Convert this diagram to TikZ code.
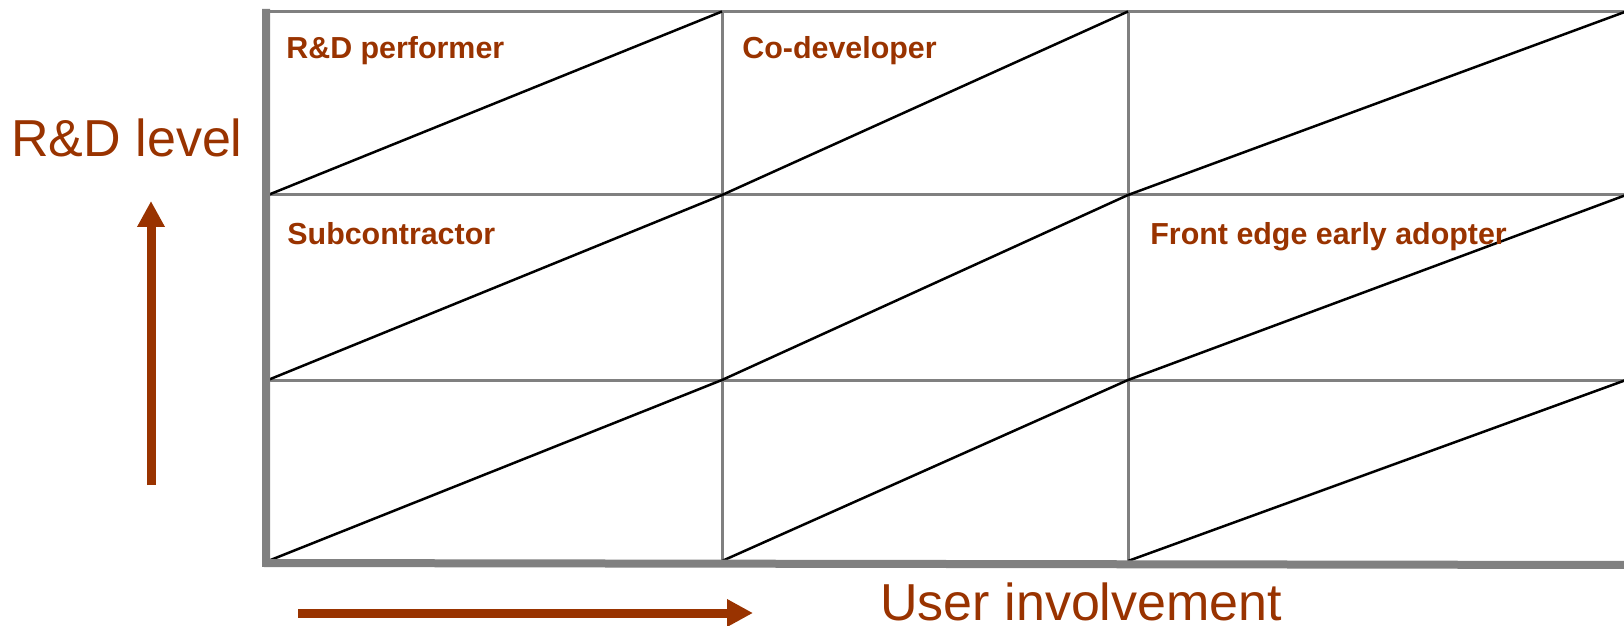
\documentclass[tikz,border=0pt]{standalone}
\usepackage{fontspec}
\setmainfont{Liberation Sans}
\usetikzlibrary{arrows.meta}
\definecolor{rust}{HTML}{993300}
\definecolor{gridgray}{HTML}{808080}
\begin{document}
\begin{tikzpicture}
        [x=0.5pt, y=-0.5pt,
        cell/.style={anchor=base west, inner sep=0pt, text=rust, font=\fontsize{15.2pt}{18pt}\selectfont\bfseries},
        axislabel/.style={anchor=base west, inner sep=0pt, text depth=0pt, text=rust, font=\fontsize{26pt}{30pt}\selectfont},
        gridline/.style={gridgray, line width=1.5pt},
        axisline/.style={gridgray, line width=4pt},
        diag/.style={black, line width=1.25pt},
        bigarrow/.style={rust, line width=4.5pt, -{Triangle[length=13pt, width=13pt]}}]
        \useasboundingbox (0,0) rectangle (1624,626);

        % grid
        \draw[gridline] (266,11.5) -- (1630,11.5);
        \draw[gridline] (266,195) -- (1630,195);
        \draw[gridline] (266,380) -- (1630,380);
        \draw[gridline] (722,11.5) -- (722,563);
        \draw[gridline] (1128,11.5) -- (1128,563);

        % diagonals
        \draw[diag] (268,195) -- (722,11.5);
        \draw[diag] (722,195) -- (1128,11.5);
        \draw[diag] (1128,195) -- (1626,11.5);
        \draw[diag] (268,380) -- (722,195);
        \draw[diag] (722,380) -- (1128,195);
        \draw[diag] (1128,380) -- (1626,195);
        \draw[diag] (268,561) -- (722,380);
        \draw[diag] (722,561) -- (1128,380);
        \draw[diag] (1128,561) -- (1626,380);

        % axes
        \draw[axisline] (266,9) -- (266,563) -- (1630,565);

        \node[cell] (rdperf) at (286,59) {R\&D performer};
        \node[cell] (codev) at (742,59) {Co-developer};
        \node[cell] (subcon) at (287,244) {Subcontractor};
        \node[cell] (frontedge) at (1150,244) {Front edge early adopter};

        \node[axislabel] (ylabel) at (11,157) {R\&D level};
        \node[axislabel] (xlabel) at (880,620) {User involvement};

        \coordinate (ylow) at (151,485);
        \coordinate (yhigh) at (151,201);
        \coordinate (xleft) at (298,613);
        \coordinate (xright) at (753,613);
        \draw[bigarrow] (ylow) -- (yhigh);
        \draw[bigarrow] (xleft) -- (xright);
    \end{tikzpicture}
\end{document}
